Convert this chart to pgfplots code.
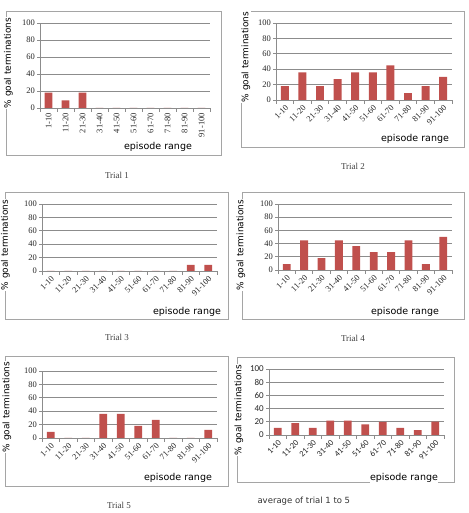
\documentclass[border=0pt]{standalone}
\usepackage{pgfplots}
\pgfplotsset{compat=1.18}
\usepackage{fontspec}
\setmainfont{Liberation Serif}
\newfontfamily\sansf{DejaVu Sans}
\newfontfamily\carl{Carlito}
\definecolor{barred}{RGB}{192,80,77}
\definecolor{gridc}{RGB}{140,140,140}
\definecolor{framec}{RGB}{165,165,165}
\pgfplotsset{
  trial/.style={
    scale only axis, ybar, bar width=0.45,
    xmin=-0.5, xmax=9.5, ymin=0, ymax=100,
    ytick={0,20,...,100},
    xtick={0,...,9},
    xticklabels={1-10,11-20,21-30,31-40,41-50,51-60,61-70,71-80,81-90,91-100},
    minor xtick={-0.5,0.5,...,9.5},
    axis x line*=bottom, axis y line*=left,
    axis line style={gridc, line width=0.8pt, -},
    ymajorgrids, grid style={gridc, line width=0.7pt},
    tick align=outside, major tick length=3pt, minor tick length=4pt,
    tick style={gridc, line width=0.7pt},
    major x tick style={draw=none},
    /pgf/number format/assume math mode=true,
    yticklabel style={font=\fontsize{8.5}{9}\selectfont, text=black!85, inner sep=2pt},
    xticklabel style={font=\fontsize{8.5}{9}\selectfont, text=black!85},
  },
  r45/.style={xticklabel style={rotate=45, anchor=north east, inner sep=1pt}},
  r90/.style={xticklabel style={rotate=90, anchor=east, inner sep=2pt}},
}
\newcommand{\ylab}{\fontsize{9}{10}\sansf}
\begin{document}
\begin{tikzpicture}[x=1pt,y=1pt]
\useasboundingbox (0,0) rectangle (468,513);
% frames
\draw[framec, line width=1pt] (6,357) rectangle (221,501);
\draw[framec, line width=1pt] (241,365) rectangle (464,501);
\draw[framec, line width=1pt] (5,193) rectangle (228,320);
\draw[framec, line width=1pt] (242,193) rectangle (464,320);
\draw[framec, line width=1pt] (5,26) rectangle (228,156);
\draw[framec, line width=1pt] (237,30) rectangle (454,155);

% Trial 1
\begin{axis}[trial, r90, at={(40pt,405pt)}, anchor=south west, width=170pt, height=85pt]
\addplot[fill=barred, draw=none] coordinates {(0,18) (1,9) (2,18) (3,0) (4,0) (5,0) (6,0) (7,0) (8,0) (9,0)};
\end{axis}
% Trial 2
\begin{axis}[trial, r45, at={(276pt,413pt)}, anchor=south west, width=176pt, height=77pt]
\addplot[fill=barred, draw=none] coordinates {(0,18) (1,36) (2,18) (3,27) (4,36) (5,36) (6,45) (7,9) (8,18) (9,30)};
\end{axis}
% Trial 3
\begin{axis}[trial, r45, at={(42pt,242pt)}, anchor=south west, width=175pt, height=67pt]
\addplot[fill=barred, draw=none] coordinates {(0,0) (1,0) (2,0) (3,0) (4,0) (5,0) (6,0) (7,0) (8,9) (9,9)};
\end{axis}
% Trial 4
\begin{axis}[trial, r45, at={(278pt,243pt)}, anchor=south west, width=174pt, height=66pt]
\addplot[fill=barred, draw=none] coordinates {(0,9) (1,45) (2,18) (3,45) (4,36) (5,27) (6,27) (7,45) (8,9) (9,50)};
\end{axis}
% Trial 5
\begin{axis}[trial, r45, at={(42pt,75pt)}, anchor=south west, width=175pt, height=67pt]
\addplot[fill=barred, draw=none] coordinates {(0,9) (1,0) (2,0) (3,36) (4,36) (5,18) (6,27) (7,0) (8,0) (9,12)};
\end{axis}
% Average
\begin{axis}[trial, r45, at={(269pt,78pt)}, anchor=south west, width=175pt, height=66pt,
  yticklabel style={font=\fontsize{9}{10}\carl},
  xticklabel style={font=\fontsize{8.5}{9}\carl}]
\addplot[fill=barred, draw=none] coordinates {(0,10.8) (1,18) (2,10.8) (3,21.6) (4,21.6) (5,16.2) (6,19.8) (7,10.8) (8,7.2) (9,20.2)};
\end{axis}

% y labels
\node[rotate=90, font=\ylab, fill=white, inner sep=0.5pt] at (8.5,450) {\% goal terminations};
\node[rotate=90, font=\ylab, fill=white, inner sep=0.5pt] at (246,456) {\% goal terminations};
\node[rotate=90, font=\ylab, fill=white, inner sep=0.5pt] at (5.5,268) {\% goal terminations};
\node[rotate=90, font=\ylab, fill=white, inner sep=0.5pt] at (241,268) {\% goal terminations};
\node[rotate=90, font=\ylab, fill=white, inner sep=0.5pt] at (7,106) {\% goal terminations};
\node[rotate=90, font=\ylab, fill=white, inner sep=0.5pt] at (239,103) {\% goal terminations};
% x labels
\node[font=\fontsize{9.5}{10}\sansf, fill=white, inner sep=0.5pt] at (158,366) {episode range};
\node[font=\fontsize{9.5}{10}\sansf, fill=white, inner sep=0.5pt] at (415,374) {episode range};
\node[font=\fontsize{9.5}{10}\sansf, fill=white, inner sep=0.5pt] at (187,201) {episode range};
\node[font=\fontsize{9.5}{10}\sansf, fill=white, inner sep=0.5pt] at (405,201) {episode range};
\node[font=\fontsize{9.5}{10}\sansf, fill=white, inner sep=0.5pt] at (178,35) {episode range};
\node[font=\fontsize{9.5}{10}\sansf, fill=white, inner sep=0.5pt] at (404,35) {episode range};
% captions
\node[font=\fontsize{9}{10}\selectfont, text=black!75] at (117,338) {Trial 1};
\node[font=\fontsize{9}{10}\selectfont, text=black!75] at (353,347) {Trial 2};
\node[font=\fontsize{9}{10}\selectfont, text=black!75] at (117,176) {Trial 3};
\node[font=\fontsize{9}{10}\selectfont, text=black!75] at (353,175) {Trial 4};
\node[font=\fontsize{9}{10}\selectfont, text=black!75] at (119,8) {Trial 5};
\node[font=\fontsize{8.5}{10}\sansf, text=black!80, anchor=west] at (254,12) {average of trial 1 to 5};
\end{tikzpicture}
\end{document}
